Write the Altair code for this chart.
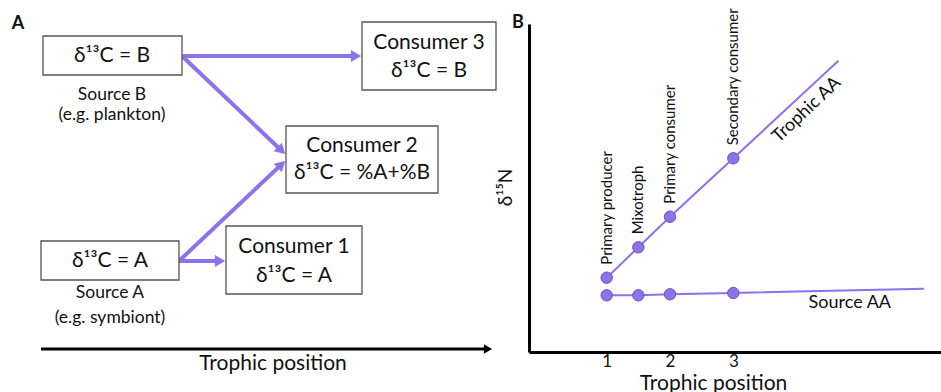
import altair as alt
import pandas as pd

FONT = "Lato"
PURPLE = "#8c72ec"
PT_FILL = "#8d73e6"
PT_STROKE = "#6a50cc"

# ---------------- Panel A : flow diagram (positions in figure units) ----------------
box_name = ["Source B", "Source A", "Consumer 3", "Consumer 2", "Consumer 1"]
box_x1 = [43, 41, 362, 286, 226]
box_x2 = [182, 179, 496, 438, 362]
box_y1 = [36, 241, 22, 126, 226]
box_y2 = [75, 280, 90, 193, 294]

txt_a = ["δ¹³C = B", "Source B", "(e.g. plankton)", "δ¹³C = A", "Source A", "(e.g. symbiont)",
         "Consumer 3", "δ¹³C = B", "Consumer 2", "δ¹³C = %A+%B", "Consumer 1", "δ¹³C = A",
         "Trophic position"]
txt_a_x = [112, 112, 112, 110, 110, 110, 429, 429, 362, 362, 294, 294, 273]
txt_a_y = [56, 95, 115, 261, 293, 318, 43, 71, 146, 173, 247, 276, 364]
txt_a_size = [21, 17.5, 17.5, 21, 17.5, 17.5, 21, 21, 21, 21, 21, 21, 21]

letters = ["A", "B"]
letter_x = [18, 518]
letter_y = [24, 23]

arr_x1 = [182, 182, 179, 179]
arr_y1 = [56, 56, 261, 261]
arr_x2 = [358, 283, 283, 222]
arr_y2 = [56, 152, 163, 261]
head_x = [356, 281.5, 281.5, 220]
head_y = [56, 150.5, 164.5, 261]
head_angle = [0, 43.6, 316.6, 0]

axis_a_x1, axis_a_x2, axis_a_y = [41], [489], [349]
axis_head_x, axis_head_y = [488], [349]

# ---------------- Panel B : d15N vs trophic position ----------------
org_label = ["Primary producer", "Mixotroph", "Primary consumer", "Secondary consumer"]
org_tp = [1, 1.5, 2, 3]
trophic_d15n = [7.43, 10.47, 13.53, 19.37]
source_d15n = [5.67, 5.67, 5.77, 5.9]
trophic_line_tp = [1, 1.5, 2, 3, 4.66]
trophic_line_n = [7.43, 10.47, 13.53, 19.37, 29.13]
source_line_tp = [1, 1.5, 2, 3, 6.01]
source_line_n = [5.67, 5.67, 5.77, 5.9, 6.33]

W, H = 941, 392
xs = alt.Scale(domain=[0, W], range=[0, W], nice=False, zero=False)
ys = alt.Scale(domain=[0, H], range=[0, H], nice=False, zero=False)

boxes = pd.DataFrame({"name": box_name, "x1": box_x1, "x2": box_x2, "y1": box_y1, "y2": box_y2})
texts_a = pd.DataFrame({"t": txt_a, "x": txt_a_x, "y": txt_a_y, "s": txt_a_size})
letters_df = pd.DataFrame({"t": letters, "x": letter_x, "y": letter_y})
arrows = pd.DataFrame({"x1": arr_x1, "y1": arr_y1, "x2": arr_x2, "y2": arr_y2,
                       "hx": head_x, "hy": head_y, "ang": head_angle})
axis_a = pd.DataFrame({"x1": axis_a_x1, "x2": axis_a_x2, "y": axis_a_y,
                       "hx": axis_head_x, "hy": axis_head_y})

box_layer = alt.Chart(boxes).mark_rect(fill="white", stroke="#555555", strokeWidth=1.3).encode(
    x=alt.X("x1:Q", scale=xs, axis=None), x2="x2:Q",
    y=alt.Y("y1:Q", scale=ys, axis=None), y2="y2:Q")

arrow_lines = alt.Chart(arrows).mark_rule(color=PURPLE, strokeWidth=4).encode(
    x=alt.X("x1:Q", scale=xs, axis=None), x2="x2:Q",
    y=alt.Y("y1:Q", scale=ys, axis=None), y2="y2:Q")

arrow_heads = alt.Chart(arrows).mark_point(shape="triangle-right", filled=True, opacity=1,
                                           color=PURPLE, size=140).encode(
    x=alt.X("hx:Q", scale=xs, axis=None),
    y=alt.Y("hy:Q", scale=ys, axis=None),
    angle=alt.Angle("ang:Q", scale=None))

axis_line = alt.Chart(axis_a).mark_rule(color="black", strokeWidth=3).encode(
    x=alt.X("x1:Q", scale=xs, axis=None), x2="x2:Q",
    y=alt.Y("y:Q", scale=ys, axis=None))
axis_head = alt.Chart(axis_a).mark_point(shape="triangle-right", filled=True, opacity=1,
                                         color="black", size=90).encode(
    x=alt.X("hx:Q", scale=xs, axis=None),
    y=alt.Y("hy:Q", scale=ys, axis=None))

text_layer = alt.Chart(texts_a).mark_text(font=FONT, color="#111111", baseline="middle",
                                          align="center").encode(
    x=alt.X("x:Q", scale=xs, axis=None),
    y=alt.Y("y:Q", scale=ys, axis=None),
    text="t:N",
    size=alt.Size("s:Q", scale=None))

letter_layer = alt.Chart(letters_df).mark_text(
    font=FONT, fontSize=18, fontWeight="bold", color="#111111", align="center",
    baseline="middle").encode(x=alt.X("x:Q", scale=xs, axis=None),
                              y=alt.Y("y:Q", scale=ys, axis=None), text="t:N")

panel_a = alt.layer(arrow_lines, arrow_heads, box_layer, text_layer, letter_layer,
                    axis_line, axis_head)

# ---------------- Panel B ----------------
bx = alt.Scale(domain=[-0.227, 6.28], range=[529, 941], nice=False, zero=False)
by = alt.Scale(domain=[0, 32.8], range=[352, 24], nice=False, zero=False)

x_axis = alt.Axis(orient="bottom", offset=-40, values=[1, 2, 3], format="d", ticks=False,
                  grid=False, domainColor="black", domainWidth=3,
                  labelFont=FONT, labelFontSize=17, labelColor="#111111", labelPadding=1,
                  title="Trophic position", titleFont=FONT, titleFontSize=21,
                  titleFontWeight="normal", titleColor="#111111", titleX=713, titleY=31,
                  titleBaseline="middle", titleAlign="center")
y_axis = alt.Axis(orient="left", offset=-529, ticks=False, labels=False, grid=False,
                  domainColor="black", domainWidth=3,
                  title="δ¹⁵N", titleFont=FONT, titleFontSize=19, titleFontWeight="normal",
                  titleColor="#111111", titleX=-24, titleY=187, titleAngle=270,
                  titleBaseline="middle", titleAlign="center")

tl = pd.DataFrame({"tp": trophic_line_tp, "n": trophic_line_n})
sl = pd.DataFrame({"tp": source_line_tp, "n": source_line_n})
pts = pd.DataFrame({"tp": org_tp * 2, "n": trophic_d15n + source_d15n,
                    "series": ["Trophic AA"] * 4 + ["Source AA"] * 4})
labs = pd.DataFrame({"tp": org_tp, "n": trophic_d15n, "label": org_label})

line_t = alt.Chart(tl).mark_line(color=PURPLE, strokeWidth=2).encode(
    x=alt.X("tp:Q", scale=bx, axis=x_axis),
    y=alt.Y("n:Q", scale=by, axis=y_axis))
line_s = alt.Chart(sl).mark_line(color=PURPLE, strokeWidth=2).encode(
    x=alt.X("tp:Q", scale=bx), y=alt.Y("n:Q", scale=by))
points = alt.Chart(pts).mark_circle(size=130, color=PT_FILL, stroke=PT_STROKE, strokeWidth=1,
                                    opacity=1).encode(
    x=alt.X("tp:Q", scale=bx), y=alt.Y("n:Q", scale=by))
point_labels = alt.Chart(labs).mark_text(font=FONT, fontSize=15, angle=270, align="left",
                                         baseline="middle", dx=13, color="#111111").encode(
    x=alt.X("tp:Q", scale=bx), y=alt.Y("n:Q", scale=by), text="label:N")

series_label = pd.DataFrame({"tp": [4.16, 4.84], "n": [24.2, 4.87],
                             "t": ["Trophic AA", "Source AA"], "ang": [316.7, 0]})
series_text = alt.Chart(series_label).mark_text(font=FONT, fontSize=18, color="#111111",
                                                align="center", baseline="middle").encode(
    x=alt.X("tp:Q", scale=bx), y=alt.Y("n:Q", scale=by), text="t:N",
    angle=alt.Angle("ang:Q", scale=None))

panel_b = alt.layer(line_t, line_s, points, point_labels, series_text)

chart = alt.layer(panel_a, panel_b).resolve_scale(
    x="independent", y="independent"
).properties(
    width=W, height=H,
    padding=0,
    autosize=alt.AutoSizeParams(type="none"),
    background="white",
).configure_view(strokeWidth=0)

chart.save("out.html", embed_options={"renderer": "svg", "actions": False})
